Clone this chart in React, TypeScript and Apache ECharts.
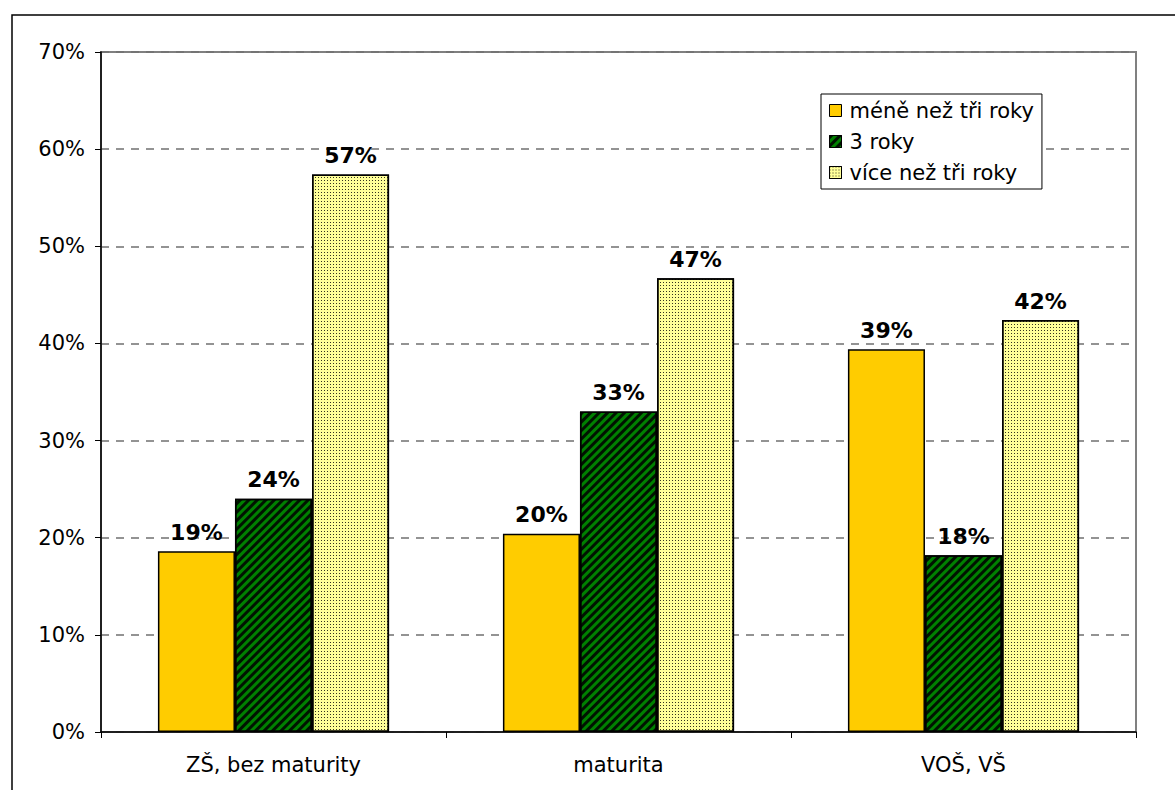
import React, { useEffect, useRef } from "react";
import * as echarts from "echarts";

const categories = ["ZŠ, bez maturity", "maturita", "VOŠ, VŠ"];
const seriesNames = ["méně než tři roky", "3 roky", "více než tři roky"];
const lessThanThree = [18.6, 20.4, 39.4];
const threeYears = [24.0, 33.0, 18.2];
const moreThanThree = [57.4, 46.7, 42.4];
const yTicks = [0, 10, 20, 30, 40, 50, 60, 70];

const FONT = "DejaVu Sans";

export default function App() {
  const ref = useRef<HTMLDivElement>(null);
  useEffect(() => {
    if (!ref.current) return;
    const chart = echarts.init(ref.current, null, { renderer: "svg" });
    const label = {
      show: true,
      position: "top" as const,
      distance: 8,
      fontFamily: FONT,
      fontSize: 22,
      fontWeight: "bold" as const,
      color: "#000",
      formatter: (p: any) => Math.round(p.value) + "%",
    };
    const border = { borderColor: "#000", borderWidth: 1.5 };
    const stripes = {
      symbol: "rect",
      symbolSize: 1,
      color: "rgba(0,0,0,0.85)",
      dashArrayX: [1, 0],
      dashArrayY: [3, 3],
      rotation: -Math.PI / 4,
    };
    const dots = {
      symbol: "rect",
      symbolSize: 1,
      color: "rgba(0,0,0,0.8)",
      dashArrayX: [1, 2],
      dashArrayY: [1, 2],
      rotation: 0,
    };
    chart.setOption({
      animation: false,
      backgroundColor: "#fff",
      textStyle: { fontFamily: FONT },
      graphic: [
        {
          type: "rect",
          shape: { x: 12, y: 15, width: 1300, height: 900 },
          style: { fill: "none", stroke: "#000", lineWidth: 1.5 },
          silent: true,
          z: -10,
        },
      ],
      grid: {
        left: 101,
        top: 52,
        right: 39,
        bottom: 58,
        show: true,
        borderColor: "#808080",
        borderWidth: 2,
        backgroundColor: "transparent",
      },
      legend: {
        orient: "vertical",
        left: 821,
        top: 94,
        icon: "rect",
        itemWidth: 12,
        itemHeight: 12,
        itemGap: 10,
        padding: [6, 8, 6, 8],
        borderColor: "#000",
        borderWidth: 1,
        backgroundColor: "#fff",
        itemStyle: { borderColor: "#000", borderWidth: 1 },
        textStyle: { fontFamily: FONT, fontSize: 21, color: "#000", padding: [0, 0, 0, 3] },
        data: seriesNames,
      },
      xAxis: {
        type: "category",
        data: categories,
        axisLine: { lineStyle: { color: "#000", width: 1.5 } },
        axisTick: { show: true, length: 6, lineStyle: { color: "#000" } },
        axisLabel: { fontFamily: FONT, fontSize: 21, color: "#000", margin: 22 },
      },
      yAxis: {
        type: "value",
        min: 0,
        max: 70,
        interval: 10,
        axisLine: { show: true, lineStyle: { color: "#000", width: 1.5 } },
        axisTick: { show: true, length: 6, lineStyle: { color: "#000" } },
        axisLabel: {
          fontFamily: FONT,
          fontSize: 21,
          color: "#000",
          margin: 16,
          formatter: (v: number) => (yTicks.includes(v) ? v + "%" : ""),
        },
        splitLine: {
          show: true,
          lineStyle: { color: "#707070", type: [8, 7], width: 1.5 },
        },
      },
      series: [
        {
          name: seriesNames[0],
          type: "bar",
          data: lessThanThree,
          barGap: "0%",
          barCategoryGap: "33%",
          itemStyle: { color: "#FFCC00", ...border },
          label,
        },
        {
          name: seriesNames[1],
          type: "bar",
          data: threeYears,
          itemStyle: { color: "#008000", ...border, decal: stripes },
          label,
        },
        {
          name: seriesNames[2],
          type: "bar",
          data: moreThanThree,
          itemStyle: { color: "#FFFF99", ...border, decal: dots },
          label,
        },
      ],
    });
    return () => chart.dispose();
  }, []);
  return (
    <div
      ref={ref}
      style={{ position: "absolute", left: 0, top: 0, width: 1175, height: 790 }}
    />
  );
}
